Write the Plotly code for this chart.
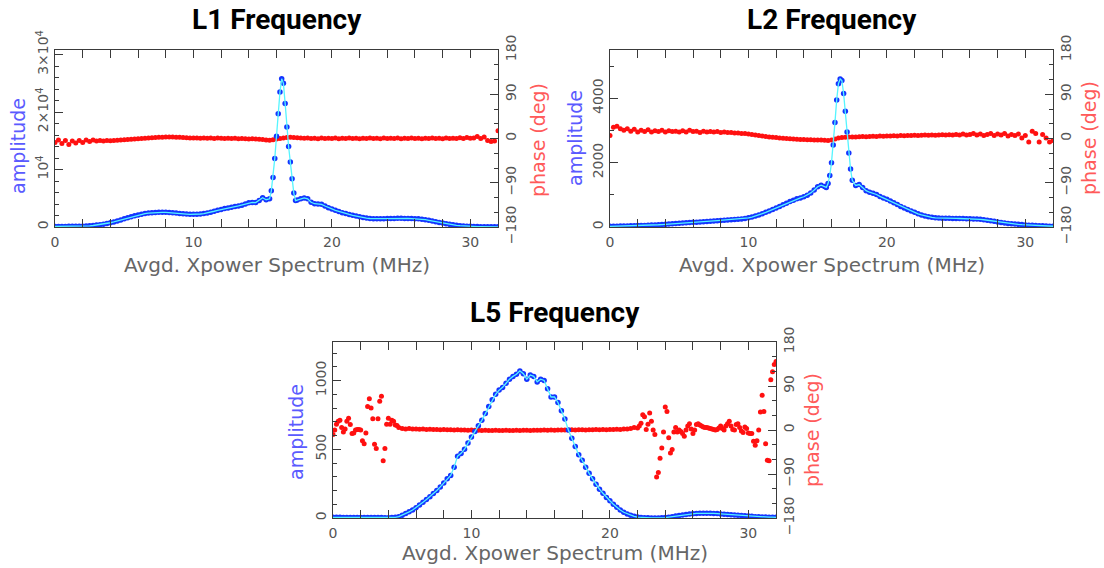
import plotly.graph_objects as go

# ---------------- data ----------------
FREQ = [0, 0.25, 0.5, 0.75, 1, 1.25, 1.5, 1.75, 2, 2.25, 2.5, 2.75, 3, 3.25, 3.5, 3.75,
        4, 4.25, 4.5, 4.75, 5, 5.25, 5.5, 5.75, 6, 6.25, 6.5, 6.75, 7, 7.25, 7.5, 7.75,
        8, 8.25, 8.5, 8.75, 9, 9.25, 9.5, 9.75, 10, 10.25, 10.5, 10.75, 11, 11.25, 11.5, 11.75,
        12, 12.25, 12.5, 12.75, 13, 13.25, 13.5, 13.75, 14, 14.25, 14.5, 14.75, 15, 15.25, 15.5, 15.75,
        16, 16.25, 16.5, 16.75, 17, 17.25, 17.5, 17.75, 18, 18.25, 18.5, 18.75, 19, 19.25, 19.5, 19.75,
        20, 20.25, 20.5, 20.75, 21, 21.25, 21.5, 21.75, 22, 22.25, 22.5, 22.75, 23, 23.25, 23.5, 23.75,
        24, 24.25, 24.5, 24.75, 25, 25.25, 25.5, 25.75, 26, 26.25, 26.5, 26.75, 27, 27.25, 27.5, 27.75,
        28, 28.25, 28.5, 28.75, 29, 29.25, 29.5, 29.75, 30, 30.25, 30.5, 30.75, 31, 31.25, 31.5, 31.75,
        32]

AMP_FREQ_PEAKED = [0, 0.25, 0.5, 0.75, 1, 1.25, 1.5, 1.75, 2, 2.25, 2.5, 2.75, 3, 3.25, 3.5, 3.75,
                   4, 4.25, 4.5, 4.75, 5, 5.25, 5.5, 5.75, 6, 6.25, 6.5, 6.75, 7, 7.25, 7.5, 7.75,
                   8, 8.25, 8.5, 8.75, 9, 9.25, 9.5, 9.75, 10, 10.25, 10.5, 10.75, 11, 11.25, 11.5, 11.75,
                   12, 12.25, 12.5, 12.75, 13, 13.25, 13.5, 13.75, 14, 14.25, 14.5, 14.75, 15, 15.25,
                   15.5, 15.625, 15.75, 15.875, 16, 16.125, 16.25, 16.375, 16.5, 16.625, 16.75, 16.875,
                   17, 17.125, 17.25, 17.375, 17.5,
                   17.75, 18, 18.25, 18.5, 18.75, 19, 19.25, 19.5, 19.75,
                   20, 20.25, 20.5, 20.75, 21, 21.25, 21.5, 21.75, 22, 22.25, 22.5, 22.75, 23, 23.25, 23.5, 23.75,
                   24, 24.25, 24.5, 24.75, 25, 25.25, 25.5, 25.75, 26, 26.25, 26.5, 26.75, 27, 27.25, 27.5, 27.75,
                   28, 28.25, 28.5, 28.75, 29, 29.25, 29.5, 29.75, 30, 30.25, 30.5, 30.75, 31, 31.25, 31.5, 31.75,
                   32]

L1_AMP = [100, 100, 100, 105, 110, 115, 125, 135,
          150, 175, 210, 260, 330, 410, 500, 610,
          740, 880, 1040, 1220, 1420, 1600, 1780, 1950,
          2100, 2230, 2340, 2430, 2490, 2530, 2550, 2560,
          2550, 2520, 2480, 2420, 2360, 2300, 2250, 2210,
          2200, 2210, 2260, 2340, 2440, 2570, 2740, 2900,
          3050, 3200, 3320, 3450, 3560, 3660, 3800, 4000,
          4200, 4280, 4250, 4600, 5100, 4750,
          4900, 6300, 8600, 11900, 15800, 19700, 23500, 25800, 25000, 21500, 17400, 14000,
          11300, 8400, 5900, 4600, 4700,
          4900, 5050, 4900, 4300, 4050, 4000, 3950, 3650,
          3350, 3150, 2900, 2700, 2500, 2330, 2180, 2040,
          1900, 1780, 1660, 1550, 1480, 1450, 1440, 1440,
          1450, 1460, 1480, 1500, 1510, 1510, 1500, 1490,
          1470, 1450, 1420, 1360, 1270, 1160, 1040, 920,
          800, 680, 560, 460, 370, 290, 230, 180,
          140, 110, 90, 75, 65, 55, 50, 45,
          40, 35]

L2_AMP = [20, 22, 25, 28, 30, 33, 36, 40,
          43, 47, 50, 55, 60, 65, 70, 76,
          82, 90, 98, 106, 114, 122, 130, 137,
          144, 150, 157, 165, 173, 180, 188, 196,
          205, 212, 220, 228, 236, 244, 252, 265,
          285, 310, 340, 375, 415, 455, 500, 545,
          590, 640, 690, 740, 790, 835, 875, 905,
          940, 990, 1060, 1150, 1250, 1300,
          1260, 1230, 1350, 1600, 2000, 2550, 3250, 3950, 4450, 4600, 4550, 4150,
          3600, 2950, 2300, 1800, 1450,
          1290, 1320, 1230, 1130, 1080, 1050, 1010, 950,
          900, 860, 810, 750, 700, 640, 590, 545,
          500, 455, 410, 375, 345, 320, 300, 285,
          278, 275, 272, 270, 268, 266, 264, 262,
          260, 256, 252, 246, 238, 225, 210, 193,
          175, 157, 140, 125, 112, 100, 90, 82,
          74, 66, 58, 51, 45, 40, 35, 31,
          27, 24]

L5_AMP = [5, 5, 5, 4, 4, 4, 3, 3,
          3, 3, 3, 3, 3, 3, 3, 2,
          2, 3, 5, 10, 20, 32, 45, 58,
          75, 95, 115, 135, 155, 178, 200, 226,
          255, 285, 310, 370, 450, 470, 500, 545,
          590, 630, 670, 710, 760, 810, 860, 900,
          930, 950, 980, 1010, 1030, 1045, 1070, 1050,
          1010, 1040, 1030, 990, 1010, 1000, 940, 880,
          880, 840, 780, 720, 640, 580, 520, 460,
          420, 370, 325, 285, 245, 210, 180, 150,
          125, 100, 78, 58, 42, 30, 20, 12,
          7, 4, 2, 1, 0, 0, 0, 1,
          3, 6, 10, 14, 18, 22, 26, 29,
          31, 33, 34, 35, 35, 34, 33, 32,
          30, 28, 26, 24, 22, 20, 18, 16,
          14, 12, 10, 9, 8, 7, 6, 6,
          5]

L1_PHASE = [-8, -3, -10, -4, -12, -5, -9, -4, -8,
            -3, -6, -3, -5, -4, -5, -4, -4.5,
            -4, -3.5, -3, -2.5, -2, -1.5, -1, -0.5, 0, 0.5, 1, 1.5, 2, 2.5, 2.5, 3,
            3, 3, 2.5, 2.5, 2, 1.5, 1, 1,
            1, 0.5, 1, 0.5, 1, 0, 1, 0.5, 0, 0.5, 0, 0.5, -0.5, 0, -0.5, -1, -0.5, -1, -1.5, -2,
            -3, -3.5, -2.5, -1, 0, 1, 2, 2.5, 2, 1.5, 1, 0.5,
            1, 0, 0.5, -0.5, 1, 0, 0.5, 0, 1, -0.5, 0.5, 0, 1, 0, 0.5, -0.5,
            0.5, 0, 1, 0, 0.5, -0.5, 1, 0, 0.5, 0, 1, -0.5, 0.5, 0, 1, 0,
            0.5, -0.5, 0.5, 0, 1, 0, 0.5, -0.5, 1, 0, 0.5, 0, 1.5, 0, 2, 0.5,
            1, 4, 0, 3, -4, -6, -5, 16]

L2_PHASE = [6, 23, 25, 20, 17, 20, 15, 19, 13,
            17, 14, 18, 13, 16, 14, 17, 13,
            16, 14, 15, 13, 16, 13, 17, 14, 15, 12, 15, 13, 14, 13, 14, 12,
            13, 12, 12, 11, 11, 10, 10, 9,
            8, 7, 6, 5, 4, 3, 2.5, 2, 1, 0.5, 0, -0.5, -1, -1.5, -2, -2, -2.5, -2.5, -3, -3,
            -3, -3.5, -4, -3, -1, 1, 2, 2.5, 3, 3, 3, 3.5,
            4, 3.5, 4, 4.5, 4, 5, 4.5, 5, 5, 5.5, 5, 6, 5.5, 6, 6, 6.5,
            6, 6.5, 7, 6.5, 7, 6.5, 7, 7.5, 7, 7.5, 7, 8, 7, 9, 7, 8,
            10, 7, 9, 6, 8, 10, 6, 9, 7, 10, 5, 8, 6, 9, 1, 6,
            -7, 15, 10, -7, 8, 1, -7, -4]

L5_PHASE_FREQ = [0, 0.125, 0.25, 0.375, 0.5, 0.625, 0.75, 0.875, 1, 1.125, 1.25, 1.375,
                 1.5, 1.625, 1.75, 1.875, 2, 2.125, 2.25, 2.375, 2.5, 2.625, 2.75, 2.875,
                 3, 3.125, 3.25, 3.375, 3.5, 3.625, 3.75, 3.875, 4, 4.125, 4.25, 4.375,
                 4.5, 4.625, 4.75,
                 5, 5.25, 5.5, 5.75, 6, 6.25, 6.5, 6.75, 7, 7.25, 7.5, 7.75,
                 8, 8.25, 8.5, 8.75, 9, 9.25, 9.5, 9.75, 10, 10.25, 10.5, 10.75,
                 11, 11.25, 11.5, 11.75, 12, 12.25, 12.5, 12.75, 13, 13.25, 13.5, 13.75,
                 14, 14.25, 14.5, 14.75, 15, 15.25, 15.5, 15.75, 16, 16.25, 16.5, 16.75,
                 17, 17.25, 17.5, 17.75, 18, 18.25, 18.5, 18.75, 19, 19.25, 19.5, 19.75,
                 20, 20.25, 20.5, 20.75, 21, 21.25, 21.5, 21.75,
                 22, 22.125, 22.25, 22.375, 22.5, 22.625, 22.75, 22.875,
                 23, 23.125, 23.25, 23.375, 23.5, 23.625, 23.75, 23.875,
                 24, 24.125, 24.25, 24.375, 24.5, 24.625, 24.75, 24.875,
                 25, 25.125, 25.25, 25.375, 25.5, 25.625, 25.75, 25.875,
                 26, 26.125, 26.25, 26.375, 26.5, 26.625, 26.75, 26.875,
                 27, 27.125, 27.25, 27.375, 27.5, 27.625, 27.75, 27.875,
                 28, 28.125, 28.25, 28.375, 28.5, 28.625, 28.75, 28.875,
                 29, 29.125, 29.25, 29.375, 29.5, 29.625, 29.75, 29.875,
                 30, 30.125, 30.25, 30.375, 30.5, 30.625, 30.75, 30.875,
                 31, 31.125, 31.25, 31.375, 31.5, 31.625, 31.75, 31.875,
                 32]

L5_PHASE = [-9, 0, 12, 18, 20, 5, -4, 2, 18, 24, 11, -7,
            -6, 0, 1, 1, 0, -22, -28, -6, 48, 64, 45, 23,
            -29, -38, 23, 59, 69, -63, -38, 12, 24, 12, 20, 18,
            10, 9, 5,
            3, 2, 3, 2, 2, 1.5, 2, 1, 1.5, 1, 1, 0.5,
            1, 0.5, 0.5, 0, 0.5, 0, 0, -0.5, 0, -0.5, -0.5, -1,
            -0.5, -1, -1, -0.5, -1, -1, -0.5, -1, -1, -0.5, -1, -0.5,
            -0.5, -1, -0.5, -0.5, -0.5, 0, -0.5, 0, -0.5, 0, 0, 0,
            0, 0.5, 0, 0.5, 0.5, 0, 0.5, 0.5, 1, 0.5, 1, 0.5,
            1, 1, 1.5, 1, 2, 2, 3, 5,
            4, 8, 14, 31, 27, 1, 12, 35,
            18, 0, -9, -96, -87, -58, -37, -4,
            47, 38, -16, -47, -40, -4, 5, -4,
            0, -3, -7, -13, 0, 8, 13, 2,
            -7, 0, 11, 13, 10, 8, 6, 5,
            5, 4, 3, 2, 1, 0, 1, 4,
            8, 3, 0, 8, 13, 18, 8, 1,
            0, 11, 13, 5, -2, -5, 6, 3,
            -6, -7, -7, -23, -31, -22, 0, 37,
            71, 38, -28, -62, -63, 103, 119, 134,
            140]

TITLES = ["L1 Frequency", "L2 Frequency", "L5 Frequency"]
X_LABEL = "Avgd. Xpower Spectrum (MHz)"
AMP_LABEL = "amplitude"
PHASE_LABEL = "phase (deg)"
X_TICKS = [0, 10, 20, 30]
PHASE_TICKS = [-180, -90, 0, 90, 180]
L1_AMP_TICKS = [0, 10000, 20000, 30000]
L1_AMP_TICKTEXT = ["0", "10<sup>4</sup>", "2×10<sup>4</sup>", "3×10<sup>4</sup>"]
L2_AMP_TICKS = [0, 2000, 4000]
L5_AMP_TICKS = [0, 500, 1000]

# ---------------- styling ----------------
W, H = 1104, 568
BLUE = "#1434ff"
CYAN = "#55f5ff"
RED = "#ff1010"
AXC = "#3a3a3a"
TICKC = "#555555"
TICKFONT = dict(family="DejaVu Sans", size=14, color=TICKC)
LABELFONT = "DejaVu Sans"
TITLEFONT = "Roboto"


def px(x):
    return x / W


def py(y):
    return 1 - y / H


panels = [
    dict(x0=55, x1=498, top=50, bot=227, af=AMP_FREQ_PEAKED, a=L1_AMP, pf=FREQ, p=L1_PHASE,
         arange=[0, 30800], atv=L1_AMP_TICKS, att=L1_AMP_TICKTEXT, aminor=2000,
         ampx=18, ampy=146, phx=538, phy=140, xty=265, tty=20),
    dict(x0=610, x1=1053, top=50, bot=227, af=AMP_FREQ_PEAKED, a=L2_AMP, pf=FREQ, p=L2_PHASE,
         arange=[0, 5500], atv=L2_AMP_TICKS, att=[str(v) for v in L2_AMP_TICKS], aminor=1000,
         ampx=575, ampy=138, phx=1089, phy=138, xty=265, tty=20),
    dict(x0=333, x1=776, top=342, bot=518, af=FREQ, a=L5_AMP, pf=L5_PHASE_FREQ, p=L5_PHASE,
         arange=[0, 1280], atv=L5_AMP_TICKS, att=[str(v) for v in L5_AMP_TICKS], aminor=100,
         ampx=296, ampy=432, phx=812, phy=430, xty=553, tty=312),
]

fig = go.Figure()
layout = dict(width=W, height=H, margin=dict(l=0, r=0, t=0, b=0, pad=0), autosize=False,
              paper_bgcolor="white", plot_bgcolor="white", showlegend=False)
annotations = []

for i, pn in enumerate(panels):
    k = i + 1
    xa = "x" if k == 1 else f"x{k}"
    ya_ph_n = 2 * k - 1
    ya_am_n = 2 * k
    ya_ph = "y" if ya_ph_n == 1 else f"y{ya_ph_n}"
    ya_am = f"y{ya_am_n}"

    # phase (base axis, right side)
    fig.add_trace(go.Scatter(x=pn["pf"], y=pn["p"], mode="markers",
                             marker=dict(color=RED, size=5, line=dict(width=0)),
                             xaxis=xa, yaxis=ya_ph, hoverinfo="skip"))
    # amplitude dots and connecting line (overlaying axis, left side)
    fig.add_trace(go.Scatter(x=pn["af"], y=pn["a"], mode="markers",
                             marker=dict(color=BLUE, size=5.5, line=dict(width=0)),
                             xaxis=xa, yaxis=ya_am, hoverinfo="skip"))
    fig.add_trace(go.Scatter(x=pn["af"], y=pn["a"], mode="lines",
                             line=dict(color=CYAN, width=1.3),
                             xaxis=xa, yaxis=ya_am, hoverinfo="skip"))

    xdom = [px(pn["x0"]), px(pn["x1"])]
    ydom = [py(pn["bot"]), py(pn["top"])]
    xkey = "xaxis" if k == 1 else f"xaxis{k}"
    layout[xkey] = dict(domain=xdom, anchor=ya_ph, range=[0, 32], tickmode="array", tickvals=X_TICKS,
                        ticks="inside", ticklen=8, tickcolor=AXC, showline=True, linecolor=AXC,
                        linewidth=1, mirror="allticks", showgrid=False, zeroline=False,
                        tickfont=TICKFONT, automargin=False, ticklabelstandoff=2,
                        minor=dict(dtick=2, tick0=0, ticks="inside", ticklen=4, tickcolor=AXC))
    phkey = "yaxis" if ya_ph_n == 1 else f"yaxis{ya_ph_n}"
    layout[phkey] = dict(domain=ydom, anchor=xa, side="right", range=[-180, 180], tickmode="array",
                         tickvals=PHASE_TICKS, ticks="inside", ticklen=8, tickcolor=AXC,
                         showline=True, linecolor=AXC, linewidth=1, showgrid=False, zeroline=False,
                         tickangle=-90, tickfont=TICKFONT, automargin=False,
                         minor=dict(dtick=30, tick0=0, ticks="inside", ticklen=4, tickcolor=AXC))
    layout[f"yaxis{ya_am_n}"] = dict(domain=ydom, anchor=xa, overlaying=ya_ph, side="left",
                                     range=pn["arange"], tickmode="array", tickvals=pn["atv"],
                                     ticktext=pn["att"], ticks="inside", ticklen=8, tickcolor=AXC,
                                     showline=True, linecolor=AXC, linewidth=1, showgrid=False,
                                     zeroline=False, tickangle=-90, tickfont=TICKFONT,
                                     automargin=False,
                                     minor=dict(dtick=pn["aminor"], tick0=0, ticks="inside",
                                                ticklen=4, tickcolor=AXC))

    cx = (pn["x0"] + pn["x1"]) / 2
    annotations.append(dict(text=f"<b>{TITLES[i]}</b>", x=px(cx), y=py(pn["tty"]), xref="paper",
                            yref="paper", xanchor="center", yanchor="middle", showarrow=False,
                            font=dict(family=TITLEFONT, size=28, color="black")))
    annotations.append(dict(text=X_LABEL, x=px(cx), y=py(pn["xty"]), xref="paper", yref="paper",
                            xanchor="center", yanchor="middle", showarrow=False,
                            font=dict(family=LABELFONT, size=20, color="#666666")))
    annotations.append(dict(text=AMP_LABEL, x=px(pn["ampx"]), y=py(pn["ampy"]), xref="paper",
                            yref="paper", xanchor="center", yanchor="middle", showarrow=False,
                            textangle=-90, font=dict(family=LABELFONT, size=19, color="#5a5aff")))
    annotations.append(dict(text=PHASE_LABEL, x=px(pn["phx"]), y=py(pn["phy"]), xref="paper",
                            yref="paper", xanchor="center", yanchor="middle", showarrow=False,
                            textangle=-90, font=dict(family=LABELFONT, size=19, color="#ff5a5a")))

layout["annotations"] = annotations
fig.update_layout(**layout)
fig.write_html("out.html", config={"displayModeBar": False},
               post_script="document.body.style.margin='0px';document.body.style.overflow='hidden';")
